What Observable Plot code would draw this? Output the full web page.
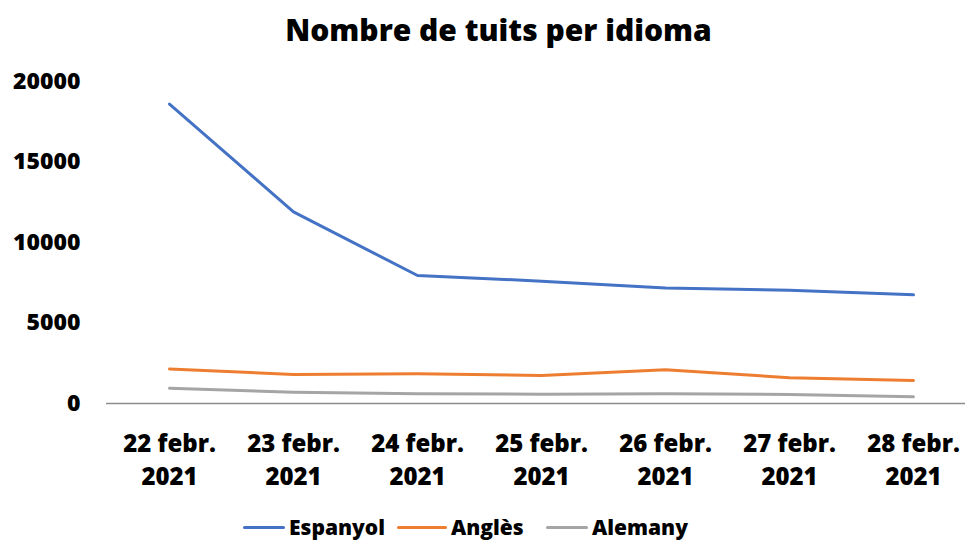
<!DOCTYPE html>
<html>
<head>
<meta charset="utf-8">
<script src="https://cdn.jsdelivr.net/npm/d3@7"></script>
<script src="https://cdn.jsdelivr.net/npm/@observablehq/plot@0.6"></script>
<style>
  html, body { margin: 0; padding: 0; background: #fff; overflow: hidden; }
  body { width: 965px; height: 542px; position: relative; font-family: "Open Sans", sans-serif; }
  #title { position: absolute; top: 0; left: 0; width: 965px; height: 60px; line-height: 60px;
           text-align: center; font-weight: 800; font-size: 30px; color: #000; padding-left: 32px; box-sizing: border-box; }
  #chart { position: absolute; top: 60px; left: 0; }
  #legend { position: absolute; top: 509px; left: 0; width: 965px; height: 36px; font-weight: 800; font-size: 21px; color: #000; }
  .item { position: absolute; top: 0; height: 36px; display: flex; align-items: center; white-space: nowrap; line-height: 26px; }
  .swatch { height: 3px; border-radius: 2px; margin-right: 4px; }
</style>
</head>
<body>
<div id="title">Nombre de tuits per idioma</div>
<div id="chart"></div>
<div id="legend"></div>
<script>
const days = ["22 febr.", "23 febr.", "24 febr.", "25 febr.", "26 febr.", "27 febr.", "28 febr."];
const year = "2021";
const seriesNames = ["Espanyol", "Anglès", "Alemany"];
const seriesColors = ["#4472C4", "#ED7D31", "#A5A5A5"];
const espanyol = [18600, 11900, 7950, 7600, 7180, 7040, 6750];
const angles = [2150, 1800, 1850, 1740, 2090, 1600, 1430];
const alemany = [950, 700, 600, 580, 600, 560, 420];
const yTicks = [0, 5000, 10000, 15000, 20000];

const values = [espanyol, angles, alemany];
const data = [];
seriesNames.forEach((name, i) => {
  days.forEach((d, j) => data.push({ day: d, value: values[i][j], series: name }));
});

const W = 965, H = 450;
const plot = Plot.plot({
  width: W,
  height: H,
  marginTop: 21,
  marginBottom: 107,
  marginLeft: 106,
  marginRight: 0,
  style: { fontFamily: "Open Sans", fontSize: "24px", fontWeight: 800, color: "#000", background: "#fff" },
  x: { type: "point", domain: days, range: [168, 914], padding: 0 },
  y: { domain: [0, 20000], ticks: yTicks },
  color: { domain: seriesNames, range: seriesColors },
  marks: [
    Plot.axisY({ ticks: yTicks, tickSize: 0, tickPadding: 26, tickFormat: d => String(d), label: null, fontSize: 23, fontWeight: 800 }),
    Plot.axisX({ tickSize: 0, tickPadding: 25, tickFormat: d => d + "\n" + year, label: null, lineHeight: 1.375, fontSize: 24, fontWeight: 800 }),
    Plot.ruleY([0], { stroke: "#8c8c8c", strokeWidth: 1.5 }),
    Plot.line(data, { x: "day", y: "value", z: "series", stroke: "series", strokeWidth: 3, strokeLinecap: "round", strokeLinejoin: "round" })
  ]
});
document.getElementById("chart").appendChild(plot);

const legendLeft = [243, 397, 546];
const swatchW = [42, 50, 42];
const legend = document.getElementById("legend");
seriesNames.forEach((name, i) => {
  const item = document.createElement("div");
  item.className = "item";
  item.style.left = legendLeft[i] + "px";
  const sw = document.createElement("div");
  sw.className = "swatch";
  sw.style.width = swatchW[i] + "px";
  sw.style.background = seriesColors[i];
  const t = document.createElement("span");
  t.textContent = name;
  item.appendChild(sw);
  item.appendChild(t);
  legend.appendChild(item);
});
</script>
</body>
</html>
